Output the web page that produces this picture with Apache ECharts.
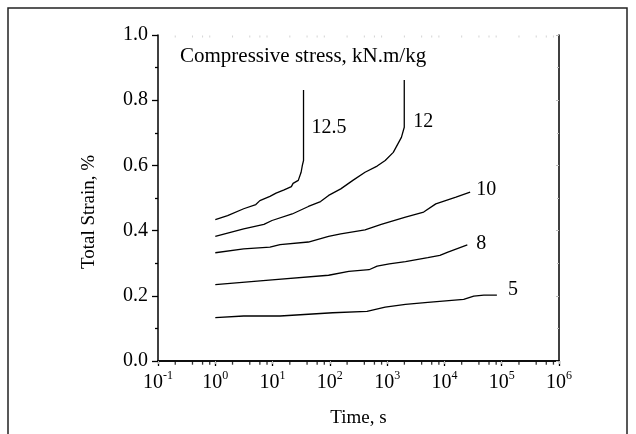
<!DOCTYPE html>
<html>
<head>
<meta charset="utf-8">
<script src="https://cdn.jsdelivr.net/npm/echarts@6/dist/echarts.min.js"></script>
<style>
  html, body { margin: 0; padding: 0; background: #fff; }
  #chart { width: 636px; height: 434px; }
</style>
</head>
<body>
<div id="chart"></div>
<script>
var FONT = '"Liberation Serif", "Times New Roman", serif';

// stress levels (kN.m/kg) used as curve names
var stressNames = ['12.5', '12', '10', '8', '5'];

// time (s) and total strain (%)
var t125 = [1, 1.64, 3.13, 5.1, 6.0, 9.0, 11.5, 15.9, 21.3, 22.8, 28.1, 31.5, 33.1, 34.7, 34.7];
var e125 = [0.434, 0.446, 0.467, 0.480, 0.492, 0.505, 0.515, 0.525, 0.535, 0.545, 0.554, 0.579, 0.600, 0.615, 0.831];

var t12 = [1, 1.64, 3.13, 7.06, 9.78, 22, 42.2, 68.8, 95.2, 155, 252, 411, 669, 925, 1280, 1380, 1774, 1990, 1990];
var e12 = [0.382, 0.392, 0.405, 0.419, 0.431, 0.451, 0.474, 0.489, 0.508, 0.528, 0.554, 0.579, 0.598, 0.615, 0.640, 0.646, 0.686, 0.717, 0.862];

var t10 = [1, 3.13, 9.0, 13.5, 42.2, 95, 155, 411, 789, 2090, 4340, 7070, 15900, 28100];
var e10 = [0.332, 0.344, 0.349, 0.357, 0.365, 0.382, 0.390, 0.402, 0.419, 0.441, 0.457, 0.482, 0.503, 0.518];

var t8 = [1, 9.8, 95, 214, 483, 669, 1090, 2090, 5120, 8330, 11500, 25100];
var e8 = [0.234, 0.249, 0.263, 0.275, 0.280, 0.291, 0.298, 0.305, 0.317, 0.324, 0.334, 0.356];

var t5 = [1, 3.13, 13.5, 112, 445, 925, 2090, 5120, 21700, 32500, 48700, 82400];
var e5 = [0.133, 0.138, 0.138, 0.148, 0.152, 0.165, 0.174, 0.180, 0.189, 0.199, 0.202, 0.202];

// axis ticks
var yTicks = [0, 0.2, 0.4, 0.6, 0.8, 1.0];
var xMinorTicks = [0.2, 0.4, 0.6, 0.8, 2, 4, 6, 8, 20, 40, 60, 80, 200, 400, 600, 800,
  2000, 4000, 6000, 8000, 20000, 40000, 60000, 80000, 200000, 400000, 600000, 800000];

function pairs(xs, ys) {
  return xs.map(function (x, i) { return [x, ys[i]]; });
}

var curves = [
  { name: stressNames[0], data: pairs(t125, e125), offset: [8, 38] },
  { name: stressNames[1], data: pairs(t12, e12), offset: [9, 42] },
  { name: stressNames[2], data: pairs(t10, e10), offset: [6, -2] },
  { name: stressNames[3], data: pairs(t8, e8), offset: [9, -1] },
  { name: stressNames[4], data: pairs(t5, e5), offset: [11, -5] }
];

var series = curves.map(function (c) {
  return {
    name: c.name,
    type: 'line',
    data: c.data,
    showSymbol: false,
    symbol: 'none',
    silent: true,
    lineStyle: { color: '#000', width: 1.3 },
    endLabel: {
      show: true,
      formatter: c.name,
      distance: 0,
      offset: c.offset,
      color: '#000',
      fontFamily: FONT,
      fontSize: 20
    }
  };
});

// minor log ticks on the bottom axis (outward)
series.push({
  type: 'scatter',
  data: xMinorTicks.map(function (x) { return [x, 0]; }),
  symbol: 'rect',
  symbolSize: [1.3, 3],
  symbolOffset: [0, 2.2],
  itemStyle: { color: '#000' },
  clip: false,
  silent: true,
  z: 5
});
// minor log ticks on the top frame (inward, faint)
series.push({
  type: 'scatter',
  data: xMinorTicks.map(function (x) { return [x, 1]; }),
  symbol: 'rect',
  symbolSize: [1, 2],
  symbolOffset: [0, 1.5],
  itemStyle: { color: '#c8c8c8' },
  clip: false,
  silent: true,
  z: 5
});

var chart = echarts.init(document.getElementById('chart'), null, { renderer: 'canvas' });

chart.setOption({
  backgroundColor: '#fff',
  animation: false,
  title: {
    text: 'Compressive stress, kN.m/kg',
    left: 180,
    top: 46,
    padding: 0,
    textStyle: { fontFamily: FONT, fontSize: 21, fontWeight: 'normal', color: '#000' }
  },
  grid: { left: 158, right: 77, top: 35, bottom: 73, containLabel: false },
  xAxis: [{
    type: 'log',
    logBase: 10,
    min: 0.1,
    max: 1000000,
    name: 'Time, s',
    nameLocation: 'middle',
    nameGap: 48,
    nameTextStyle: { fontFamily: FONT, fontSize: 19, color: '#000' },
    axisLine: { show: true, lineStyle: { color: '#000', width: 1.5 } },
    axisTick: { show: true, length: 5, lineStyle: { color: '#000', width: 1.3 } },
    minorTick: { show: false },
    splitLine: { show: false },
    axisLabel: {
      margin: 9,
      color: '#000',
      formatter: function (v) {
        var p = Math.round(Math.log10(v));
        return '{b|10}{s|' + p + '}';
      },
      rich: {
        b: { fontFamily: FONT, fontSize: 20, color: '#000' },
        s: { fontFamily: FONT, fontSize: 12, color: '#000', padding: [0, 0, 13, 0] }
      }
    }
  }, {
    type: 'log',
    logBase: 10,
    min: 0.1,
    max: 1000000,
    position: 'top',
    axisLine: { show: true, lineStyle: { color: '#000', width: 1.5 } },
    axisTick: { show: true, inside: true, length: 3, lineStyle: { color: '#bbb' } },
    axisLabel: { show: false },
    splitLine: { show: false }
  }],
  yAxis: [{
    type: 'value',
    min: yTicks[0],
    max: yTicks[yTicks.length - 1],
    interval: 0.2,
    axisLine: { show: true, lineStyle: { color: '#000', width: 1.5 } },
    axisTick: { show: true, length: 6, lineStyle: { color: '#000', width: 1.3 } },
    minorTick: { show: true, splitNumber: 2, length: 3, lineStyle: { color: '#000', width: 1.3 } },
    splitLine: { show: false },
    axisLabel: {
      margin: 10,
      color: '#000',
      fontFamily: FONT,
      fontSize: 20,
      formatter: function (v) { return v.toFixed(1); }
    }
  }, {
    type: 'value',
    min: yTicks[0],
    max: yTicks[yTicks.length - 1],
    interval: 0.2,
    position: 'right',
    axisLine: { show: true, lineStyle: { color: '#000', width: 1.5 } },
    axisTick: { show: true, inside: true, length: 3, lineStyle: { color: '#bbb' } },
    minorTick: { show: true, splitNumber: 2, length: 2, lineStyle: { color: '#bbb' } },
    axisLabel: { show: false },
    splitLine: { show: false }
  }],
  graphic: [{
    type: 'rect',
    shape: { x: 8, y: 8, width: 619, height: 440 },
    style: { fill: null, stroke: '#222', lineWidth: 1.5 },
    silent: true
  }, {
    type: 'text',
    x: 89,
    y: 212,
    rotation: Math.PI / 2,
    style: {
      text: 'Total Strain, %',
      fontFamily: FONT,
      fontSize: 19,
      fill: '#000',
      align: 'center',
      verticalAlign: 'middle'
    },
    silent: true
  }],
  series: series
});
</script>
</body>
</html>
